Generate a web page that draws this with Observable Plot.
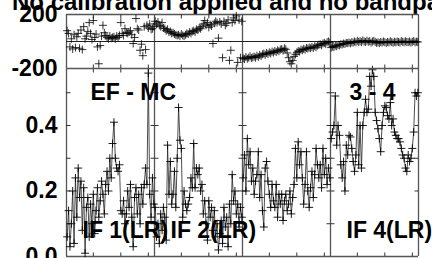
<!DOCTYPE html>
<html><head><meta charset="utf-8">
<script src="https://cdn.jsdelivr.net/npm/d3@7"></script>
<script src="https://cdn.jsdelivr.net/npm/@observablehq/plot@0.6"></script>
<style>
html,body{margin:0;padding:0;background:#fff;}
#wrap{position:relative;width:432px;height:258px;overflow:hidden;font-family:"Liberation Sans",Arial,sans-serif;}
#title{position:absolute;left:12px;top:-10px;font-weight:bold;font-size:24px;line-height:24px;white-space:nowrap;color:#000;}
.p{position:absolute;left:0;}
</style></head><body>
<div id="wrap"><div id="title"></div></div>
<script>
// ---- data ----
const ifNumbers = [1, 2, 3, 4];
const nChan = 64;
const polarization = "LR";
const labelledIFs = [1, 2, 4];
const baselineName = "EF - MC";
const antennaPair = "3 - 4";
const titleText = "No calibration applied and no bandpass";
const phaseTicks = [-200, 200];
const ampTicks = [0, 0.2, 0.4];
const ampMinorTicks = [0.1, 0.2, 0.3, 0.4, 0.5];
const chanTicks = [20, 40, 60];

const ampIF1 = [0.06,0.14,0.03,0.10,0.20,0.04,0.24,0.12, 0.27,0.18,0.23,0.08,0.21,0.01,0.15,0.18,
  0.06,0.16,0.10,0.19,0.07,0.14,0.21,0.12, 0.17,0.23,0.19,0.13,0.22,0.26,0.20,0.30,
  0.24,0.345,0.41,0.30,0.27,0.26,0.28,0.14, 0.13,0.17,0.10,0.13,0.20,0.15,0.22,0.12,
  0.03,0.18,0.21,0.13,0.19,0.10,0.21,0.16, 0.22,0.27,0.22,0.56,0.19,0.12,0.24,0.16];
const ampIF2 = [0.15,0.06,0.10,0.04,0.13,0.08,0.15,0.12, 0.05,0.34,0.19,0.29,0.16,0.19,0.26,0.15,
  0.30,0.455,0.355,0.33,0.12,0.20,0.16,0.14, 0.16,0.18,0.24,0.21,0.345,0.21,0.27,0.25,
  0.27,0.20,0.22,0.13,0.17,0.10,0.05,0.17, 0.12,0.15,0.08,0.14,0.06,0.10,0.02,0.07,
  0.11,0.04,0.15,0.09,0.12,0.03,0.16,0.10, 0.25,0.17,0.20,0.13,0.16,0.09,0.15,0.12];
const ampIF3 = [0.24,0.31,0.20,0.36,0.28,0.32,0.23,0.27, 0.19,0.23,0.25,0.32,0.18,0.25,0.14,0.09,
  0.27,0.29,0.23,0.19,0.15,0.22,0.17,0.15, 0.22,0.12,0.19,0.16,0.19,0.11,0.17,0.19,
  0.14,0.16,0.20,0.13,0.18,0.22,0.33,0.24, 0.35,0.28,0.32,0.24,0.16,0.22,0.32,0.20,
  0.15,0.21,0.26,0.18,0.25,0.33,0.28,0.24, 0.28,0.21,0.33,0.25,0.30,0.22,0.27,0.24];
const ampIF4 = [0.36,0.38,0.40,0.49,0.34,0.40,0.37,0.28, 0.24,0.29,0.20,0.34,0.31,0.37,0.365,0.33,
  0.29,0.26,0.31,0.44,0.28,0.40,0.27,0.40, 0.44,0.48,0.44,0.45,0.55,0.52,0.57,0.55,
  0.44,0.415,0.39,0.36,0.32,0.40,0.44,0.46, 0.455,0.43,0.42,0.47,0.40,0.42,0.38,0.37,
  0.36,0.36,0.35,0.33,0.31,0.30,0.27,0.26, 0.31,0.29,0.30,0.33,0.38,0.50,0.49,0.50];

const phIF1 = [80,60,-40,20,-55,50,-45,35, 60,-50,85,-60,110,20,40,75,
  140,60,15,155,30,55,-40,-165, -30,40,120,65,45,30,20,40,
  25,30,35,20,40,30,45,140, 60,45,95,65,60,70,80,50,
  -15,30,170,95,85,-65,-20,-105, 110,-60,120,100,130,90,95,110];
const phIF2 = [150,130,145,120,110,140,100,95, 80,90,70,75,60,65,55,50,
  45,50,40,55,45,40,50,60, 55,70,60,75,80,70,90,85,
  100,95,110,130,155,120,140,105, 125,115,-15,135,150,140,25,145,
  130,-120,150,120,135,160,-140,-65, 140,175,155,190,-155,160,-120,150];
const phIF3 = [-125,-130,-115,-128,-120,-110,-122,-118, -112,-120,-105,-115,-100,-108,-95,-90,
  -98,-85,-92,-80,-88,-75,-82,-70, -78,-65,-72,-60,-55,-68,-50,-58,
  -85,-120,-150,-165,-140,-110,-95,-80, -70,-75,-60,-65,-55,-60,-48,-52,
  -45,-50,-40,-48,-35,-42,-30,-25, -20,-28,-15,-10,-18,-5,0,-8];
const phIF4 = [-45,-38,-42,-30,-35,-25,-28,-20, -22,-15,-18,-10,-12,-8,-14,-5,
  -8,0,-6,5,-3,2,-5,8, 0,-4,6,-2,3,-8,0,5,
  -3,-10,-6,-12,-4,-8,0,-5, -10,-3,-7,2,-5,-9,-2,-6,
  0,-4,-8,3,-2,-6,1,-3, -5,0,-8,-2,4,-6,-1,-4];

const ampSeries = [ampIF1, ampIF2, ampIF3, ampIF4];
const phSeries = [phIF1, phIF2, phIF3, phIF4];

// ---- derived tables ----
const rows = ifNumbers.flatMap((f, i) => ampSeries[i].map((a, j) => ({
  if: f, idx: i * nChan + j + 1, amp: a, phase: phSeries[i][j]
})));
const bounds = d3.range(ifNumbers.length + 1).map(i => i * nChan + 0.5);
const tickIdx = ifNumbers.flatMap((f, i) => chanTicks.map(c => i * nChan + c));
const xDomain = [bounds[0], bounds[bounds.length - 1]];
const ampTop = 0.574;

const cross = {draw(ctx, size) { const r = Math.sqrt(size / Math.PI); ctx.moveTo(-r, 0); ctx.lineTo(r, 0); ctx.moveTo(0, -r); ctx.lineTo(0, r); }};
const hdash = {draw(ctx, size) { const r = Math.sqrt(size / Math.PI); ctx.moveTo(-r, 0); ctx.lineTo(r, 0); }};
const vdash = {draw(ctx, size) { const r = Math.sqrt(size / Math.PI); ctx.moveTo(0, -r); ctx.lineTo(0, r); }};

const frameColor = "#555";
const font = {background: "transparent", fontFamily: "'Liberation Sans', Arial, sans-serif", fontSize: "23px", fontWeight: "bold", color: "#000", overflow: "visible"};

const wrap = document.getElementById("wrap");

// amplitude panel
const amp = Plot.plot({
  width: 432, height: 200,
  marginTop: 8, marginBottom: 4, marginLeft: 66, marginRight: 14,
  style: font,
  x: {domain: xDomain, axis: null},
  y: {domain: [0, ampTop], ticks: ampTicks, tickSize: 0, tickPadding: 9, tickFormat: d3.format(".1f"), label: null},
  marks: [
    Plot.ruleX(bounds, {stroke: frameColor, strokeWidth: 1.3}),
    Plot.ruleY([0], {stroke: frameColor, strokeWidth: 1.3}),
    Plot.dot(bounds.flatMap(b => ampMinorTicks.map(v => ({b, v}))), {x: "b", y: "v", symbol: hdash, r: 4, stroke: "#333", strokeWidth: 1, fill: "none", clip: true}),
    Plot.dot(tickIdx.flatMap(t => [0, ampTop].map(v => ({t, v}))), {x: "t", y: "v", symbol: vdash, r: 4, stroke: "#333", strokeWidth: 1, fill: "none", clip: true}),
    Plot.line(rows, {x: "idx", y: "amp", z: "if", stroke: "#222", strokeWidth: 0.8}),
    Plot.dot(rows, {x: "idx", y: "amp", symbol: cross, r: 4, stroke: "#000", strokeWidth: 0.9, fill: "none"}),
    Plot.text([baselineName], {frameAnchor: "top-left", textAnchor: "start", lineAnchor: "middle", dx: 24, dy: 24, fill: "#000"}),
    Plot.text([antennaPair], {frameAnchor: "top-right", textAnchor: "end", lineAnchor: "middle", dx: -23, dy: 24, fill: "#000"}),
    Plot.text(labelledIFs, {x: f => (f - 1) * nChan + 0.5, text: f => `IF ${f}(${polarization})`, frameAnchor: "bottom", textAnchor: "start", lineAnchor: "middle", dx: 16, dy: -26, fill: "#000"})
  ]
});
amp.classList.add("p"); amp.style.top = "60px";
wrap.appendChild(amp);

// phase panel
const ph = Plot.plot({
  width: 432, height: 76,
  marginTop: 14, marginBottom: 8, marginLeft: 66, marginRight: 14,
  style: font,
  x: {domain: xDomain, axis: null},
  y: {domain: [-200, 200], ticks: phaseTicks, tickSize: 0, tickPadding: 9, tickFormat: d => String(d), label: null},
  marks: [
    Plot.ruleX(bounds, {stroke: frameColor, strokeWidth: 1.3}),
    Plot.ruleY([-200, 200], {stroke: frameColor, strokeWidth: 1.3}),
    Plot.ruleY([0], {stroke: "#222", strokeWidth: 1}),
    Plot.dot(tickIdx.flatMap(t => [-200, 200].map(v => ({t, v}))), {x: "t", y: "v", symbol: vdash, r: 4, stroke: "#333", strokeWidth: 1, fill: "none", clip: true}),
    Plot.dot(rows, {x: "idx", y: "phase", symbol: cross, r: 4, stroke: "#000", strokeWidth: 0.8, fill: "none"})
  ]
});
ph.classList.add("p"); ph.style.top = "0px";
wrap.appendChild(ph);
document.getElementById("title").textContent = titleText;
</script>
</body></html>
